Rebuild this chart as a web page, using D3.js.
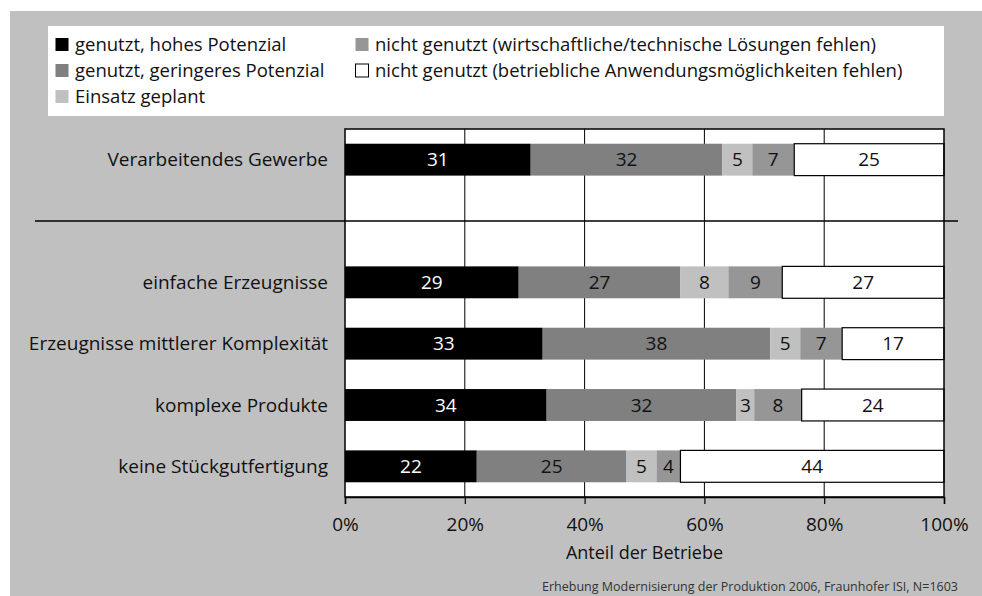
<!DOCTYPE html>
<html>
<head>
<meta charset="utf-8">
<script src="https://cdn.jsdelivr.net/npm/d3@7"></script>
<style>
  body { margin: 0; background: #fff; }
  text { font-family: "Open Sans", sans-serif; fill: #111; }
</style>
</head>
<body>
<script>
// categories (null = empty slot where the separator line sits)
var categories = ['Verarbeitendes Gewerbe', null, 'einfache Erzeugnisse',
    'Erzeugnisse mittlerer Komplexität', 'komplexe Produkte', 'keine Stückgutfertigung'];
var seriesNames = ['genutzt, hohes Potenzial', 'genutzt, geringeres Potenzial', 'Einsatz geplant',
    'nicht genutzt (wirtschaftliche/technische Lösungen fehlen)',
    'nicht genutzt (betriebliche Anwendungsmöglichkeiten fehlen)'];
var seriesColors = ['#000000', '#808080', '#c0c0c0', '#969696', '#ffffff'];
var hohes    = [31, 29, 33, 34, 22];
var geringer = [32, 27, 38, 32, 25];
var geplant  = [5, 8, 5, 3, 5];
var wirtsch  = [7, 9, 7, 8, 4];
var betrieb  = [25, 27, 17, 24, 44];
var tickValues = [0, 0.2, 0.4, 0.6, 0.8, 1];
var xTitle = 'Anteil der Betriebe';
var source = 'Erhebung Modernisierung der Produktion 2006, Fraunhofer ISI, N=1603';

var width = 982, height = 596;
var margin = { left: 345, right: 38, top: 129, bottom: 99 };
var fs = 19;

var svg = d3.select('body').append('svg')
    .attr('width', width)
    .attr('height', height);

// grey background
svg.append('rect').attr('x', 10).attr('y', 11).attr('width', width - 10).attr('height', height - 11)
    .attr('fill', '#c0c0c0');

// legend box
svg.append('rect').attr('x', 48).attr('y', 26).attr('width', 896).attr('height', 90).attr('fill', '#fff');
var legendPos = [[55, 45], [55, 71], [55, 97], [355, 45], [355, 71]];
seriesNames.forEach(function(name, i) {
    var g = svg.append('g').attr('transform', 'translate(' + legendPos[i][0] + ',' + legendPos[i][1] + ')');
    g.append('rect').attr('x', 0.5).attr('y', -7).attr('width', 13).attr('height', 13)
        .attr('fill', seriesColors[i])
        .attr('stroke', i === 4 ? '#000' : 'none').attr('stroke-width', 1);
    g.append('text').attr('x', 20).attr('dy', '0.35em').attr('font-size', 18.5).text(name);
});

// build rows (skip the empty slot)
var rows = [];
var k = 0;
categories.forEach(function(c) {
    if (c === null) return;
    rows.push({ cat: c, s0: hohes[k], s1: geringer[k], s2: geplant[k], s3: wirtsch[k], s4: betrieb[k] });
    k++;
});

var x = d3.scaleLinear().domain([0, 1]).range([margin.left, width - margin.right]);
var y = d3.scaleBand().domain(categories.map(function(c, i) { return i; }))
    .range([margin.top, height - margin.bottom]).paddingInner(0.48).paddingOuter(0.24);

var stack = d3.stack().keys(['s0', 's1', 's2', 's3', 's4']).offset(d3.stackOffsetExpand);
var stacked = stack(rows);

// plot area
svg.append('rect').attr('x', x(0)).attr('y', margin.top).attr('width', x(1) - x(0))
    .attr('height', height - margin.bottom - margin.top).attr('fill', '#fff');

// grid lines
svg.append('g').selectAll('line').data(tickValues.slice(1, -1)).enter().append('line')
    .attr('x1', function(d) { return x(d); }).attr('x2', function(d) { return x(d); })
    .attr('y1', margin.top).attr('y2', height - margin.bottom)
    .attr('stroke', '#000').attr('stroke-width', 1);

function rowIndex(cat) { return categories.indexOf(cat); }

// bars
var layers = svg.append('g').selectAll('g').data(stacked).enter().append('g');
layers.selectAll('rect').data(function(d) { return d; }).enter().append('rect')
    .attr('x', function(d) { return x(d[0]); })
    .attr('y', function(d) { return y(rowIndex(d.data.cat)); })
    .attr('width', function(d) { return x(d[1]) - x(d[0]); })
    .attr('height', y.bandwidth())
    .attr('fill', function() { return seriesColors[d3.select(this.parentNode).datum().index]; })
    .attr('stroke', function() { return d3.select(this.parentNode).datum().index === 4 ? '#000' : 'none'; })
    .attr('stroke-width', 1.2);

// bar value labels
layers.selectAll('text').data(function(d) { return d.map(function(p) { p.key = d.key; p.idx = d.index; return p; }); })
    .enter().append('text')
    .attr('x', function(d) { return (x(d[0]) + x(d[1])) / 2; })
    .attr('y', function(d) { return y(rowIndex(d.data.cat)) + y.bandwidth() / 2; })
    .attr('dy', '0.35em')
    .attr('text-anchor', 'middle')
    .attr('font-size', fs)
    .style('fill', function(d) { return d.idx === 0 ? '#fff' : '#111'; })
    .text(function(d) { return d.data[d.key]; });

// plot border
svg.append('rect').attr('x', x(0)).attr('y', margin.top).attr('width', x(1) - x(0))
    .attr('height', height - margin.bottom - margin.top)
    .attr('fill', 'none').attr('stroke', '#000').attr('stroke-width', 1.5);

// separator line
var sepY = y(1) + y.bandwidth() / 2;
svg.append('line').attr('x1', 35).attr('x2', 958).attr('y1', sepY).attr('y2', sepY)
    .attr('stroke', '#000').attr('stroke-width', 1.5);

// category labels
svg.append('g').selectAll('text').data(rows).enter().append('text')
    .attr('x', margin.left - 17)
    .attr('y', function(d) { return y(rowIndex(d.cat)) + y.bandwidth() / 2; })
    .attr('dy', '0.35em').attr('text-anchor', 'end').attr('font-size', fs)
    .text(function(d) { return d.cat; });

// x axis
var xAxis = svg.append('g').attr('transform', 'translate(0,' + (height - margin.bottom) + ')')
    .call(d3.axisBottom(x).tickValues(tickValues).tickFormat(d3.format('.0%')).tickSize(7).tickPadding(14));
xAxis.select('.domain').attr('stroke', '#000').attr('stroke-width', 1.5);
xAxis.selectAll('.tick line').attr('stroke', '#000').attr('stroke-width', 1.2);
xAxis.selectAll('.tick text').attr('font-size', fs).attr('font-family', '"Open Sans", sans-serif').style('fill', '#111');

svg.append('text').attr('x', (x(0) + x(1)) / 2).attr('y', 553).attr('dy', '0.35em')
    .attr('text-anchor', 'middle').attr('font-size', 18).text(xTitle);

svg.append('text').attr('x', 958).attr('y', 587).attr('dy', '0.35em')
    .attr('text-anchor', 'end').attr('font-size', 12.5).style('fill', '#333').text(source);
</script>
</body>
</html>
